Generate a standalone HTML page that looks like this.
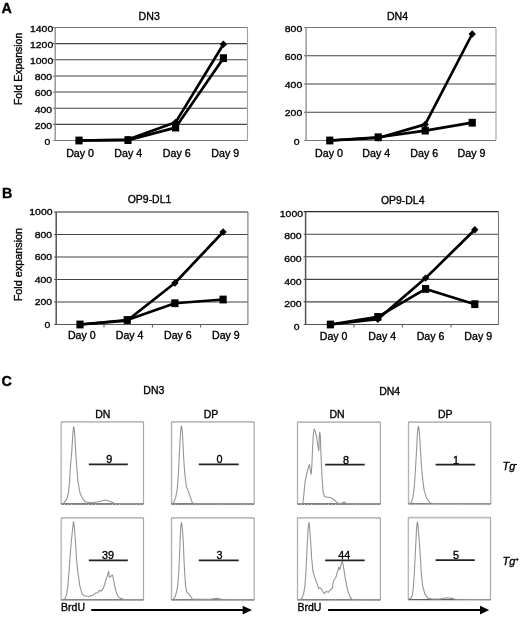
<!DOCTYPE html>
<html><head><meta charset="utf-8"><style>
html,body{margin:0;padding:0;background:#fff;}
body{width:520px;height:618px;overflow:hidden;}
svg{display:block;filter:grayscale(100%);}
text{font-family:"Liberation Sans",sans-serif;fill:#000;stroke:#000;stroke-width:0.35px;}
</style></head><body>
<svg width="520" height="618" viewBox="0 0 520 618">
<text x="1.6" y="12.7" font-size="14.3" font-weight="bold">A</text>
<text x="2.0" y="197.6" font-size="14.3" font-weight="bold">B</text>
<text x="1.6" y="386.4" font-size="14.3" font-weight="bold">C</text>
<line x1="53.20" y1="140.50" x2="247.50" y2="140.50" stroke="#777" stroke-width="1.1"/>
<text transform="translate(50.30,144.90) scale(1.05,1)" text-anchor="end" font-size="9.95">0</text>
<line x1="53.20" y1="124.36" x2="247.50" y2="124.36" stroke="#454545" stroke-width="1.1"/>
<text transform="translate(52.10,128.76) scale(1.05,1)" text-anchor="end" font-size="9.95">200</text>
<line x1="53.20" y1="108.21" x2="247.50" y2="108.21" stroke="#454545" stroke-width="1.1"/>
<text transform="translate(52.10,112.61) scale(1.05,1)" text-anchor="end" font-size="9.95">400</text>
<line x1="53.20" y1="92.07" x2="247.50" y2="92.07" stroke="#454545" stroke-width="1.1"/>
<text transform="translate(52.10,96.47) scale(1.05,1)" text-anchor="end" font-size="9.95">600</text>
<line x1="53.20" y1="75.93" x2="247.50" y2="75.93" stroke="#454545" stroke-width="1.1"/>
<text transform="translate(52.10,80.33) scale(1.05,1)" text-anchor="end" font-size="9.95">800</text>
<line x1="53.20" y1="59.79" x2="247.50" y2="59.79" stroke="#454545" stroke-width="1.1"/>
<text transform="translate(53.20,64.19) scale(1.05,1)" text-anchor="end" font-size="9.95">1000</text>
<line x1="53.20" y1="43.64" x2="247.50" y2="43.64" stroke="#454545" stroke-width="1.1"/>
<text transform="translate(53.20,48.04) scale(1.05,1)" text-anchor="end" font-size="9.95">1200</text>
<line x1="53.20" y1="27.50" x2="247.50" y2="27.50" stroke="#777" stroke-width="1.1"/>
<text transform="translate(53.20,31.90) scale(1.05,1)" text-anchor="end" font-size="9.95">1400</text>
<line x1="55.20" y1="27.50" x2="55.20" y2="140.50" stroke="#8a8a8a" stroke-width="1.3"/>
<line x1="247.50" y1="27.50" x2="247.50" y2="140.50" stroke="#a0a0a0" stroke-width="1.1"/>
<text transform="translate(149.20,20.00) scale(1.0,1)" text-anchor="middle" font-size="10.60">DN3</text>
<text transform="translate(80.10,157.00) scale(1.05,1)" text-anchor="middle" font-size="10.19">Day 0</text>
<text transform="translate(128.20,157.00) scale(1.05,1)" text-anchor="middle" font-size="10.19">Day 4</text>
<text transform="translate(176.80,157.00) scale(1.05,1)" text-anchor="middle" font-size="10.19">Day 6</text>
<text transform="translate(225.20,157.00) scale(1.05,1)" text-anchor="middle" font-size="10.19">Day 9</text>
<polyline fill="none" stroke="#000" stroke-width="2.7" stroke-linejoin="round" points="79.00,140.50 128.00,139.53 175.60,122.34 223.40,44.21"/>
<polygon points="79.00,136.80 82.70,140.50 79.00,144.20 75.30,140.50" fill="#000"/>
<polygon points="128.00,135.83 131.70,139.53 128.00,143.23 124.30,139.53" fill="#000"/>
<polygon points="175.60,118.64 179.30,122.34 175.60,126.04 171.90,122.34" fill="#000"/>
<polygon points="223.40,40.51 227.10,44.21 223.40,47.91 219.70,44.21" fill="#000"/>
<polyline fill="none" stroke="#000" stroke-width="2.7" stroke-linejoin="round" points="79.00,140.50 128.00,140.10 175.60,127.59 223.40,58.17"/>
<rect x="75.40" y="136.60" width="7.2" height="7.8" fill="#000"/>
<rect x="124.40" y="136.20" width="7.2" height="7.8" fill="#000"/>
<rect x="172.00" y="123.69" width="7.2" height="7.8" fill="#000"/>
<rect x="219.80" y="54.27" width="7.2" height="7.8" fill="#000"/>
<text transform="translate(21.90,68.90) rotate(-90) scale(1.05,1)" text-anchor="middle" font-size="10.00">Fold Expansion</text>
<line x1="304.10" y1="140.50" x2="496.00" y2="140.50" stroke="#777" stroke-width="1.1"/>
<text transform="translate(299.50,144.60) scale(1.05,1)" text-anchor="end" font-size="9.95">0</text>
<line x1="304.10" y1="112.25" x2="496.00" y2="112.25" stroke="#454545" stroke-width="1.1"/>
<text transform="translate(302.20,116.35) scale(1.05,1)" text-anchor="end" font-size="9.95">200</text>
<line x1="304.10" y1="84.00" x2="496.00" y2="84.00" stroke="#454545" stroke-width="1.1"/>
<text transform="translate(302.20,88.10) scale(1.05,1)" text-anchor="end" font-size="9.95">400</text>
<line x1="304.10" y1="55.75" x2="496.00" y2="55.75" stroke="#454545" stroke-width="1.1"/>
<text transform="translate(302.20,59.85) scale(1.05,1)" text-anchor="end" font-size="9.95">600</text>
<line x1="304.10" y1="27.50" x2="496.00" y2="27.50" stroke="#777" stroke-width="1.1"/>
<text transform="translate(302.20,31.60) scale(1.05,1)" text-anchor="end" font-size="9.95">800</text>
<line x1="306.10" y1="27.50" x2="306.10" y2="140.50" stroke="#8a8a8a" stroke-width="1.3"/>
<line x1="496.00" y1="27.50" x2="496.00" y2="140.50" stroke="#a0a0a0" stroke-width="1.1"/>
<text transform="translate(397.50,19.90) scale(1.0,1)" text-anchor="middle" font-size="10.60">DN4</text>
<text transform="translate(329.00,157.00) scale(1.05,1)" text-anchor="middle" font-size="10.19">Day 0</text>
<text transform="translate(376.20,157.00) scale(1.05,1)" text-anchor="middle" font-size="10.19">Day 4</text>
<text transform="translate(424.30,157.00) scale(1.05,1)" text-anchor="middle" font-size="10.19">Day 6</text>
<text transform="translate(471.50,157.00) scale(1.05,1)" text-anchor="middle" font-size="10.19">Day 9</text>
<polyline fill="none" stroke="#000" stroke-width="2.7" stroke-linejoin="round" points="329.80,140.50 378.20,137.96 425.20,124.40 472.20,34.00"/>
<polygon points="329.80,136.80 333.50,140.50 329.80,144.20 326.10,140.50" fill="#000"/>
<polygon points="378.20,134.26 381.90,137.96 378.20,141.66 374.50,137.96" fill="#000"/>
<polygon points="425.20,120.70 428.90,124.40 425.20,128.10 421.50,124.40" fill="#000"/>
<polygon points="472.20,30.30 475.90,34.00 472.20,37.70 468.50,34.00" fill="#000"/>
<polyline fill="none" stroke="#000" stroke-width="2.7" stroke-linejoin="round" points="329.80,140.50 378.20,137.25 425.20,130.61 472.20,122.70"/>
<rect x="326.20" y="136.60" width="7.2" height="7.8" fill="#000"/>
<rect x="374.60" y="133.35" width="7.2" height="7.8" fill="#000"/>
<rect x="421.60" y="126.71" width="7.2" height="7.8" fill="#000"/>
<rect x="468.60" y="118.80" width="7.2" height="7.8" fill="#000"/>
<line x1="54.20" y1="324.50" x2="247.90" y2="324.50" stroke="#555" stroke-width="1.1"/>
<text transform="translate(50.40,327.90) scale(1.05,1)" text-anchor="end" font-size="9.95">0</text>
<line x1="54.20" y1="302.00" x2="247.90" y2="302.00" stroke="#454545" stroke-width="1.1"/>
<text transform="translate(52.10,305.40) scale(1.05,1)" text-anchor="end" font-size="9.95">200</text>
<line x1="54.20" y1="279.50" x2="247.90" y2="279.50" stroke="#454545" stroke-width="1.1"/>
<text transform="translate(52.10,282.90) scale(1.05,1)" text-anchor="end" font-size="9.95">400</text>
<line x1="54.20" y1="257.00" x2="247.90" y2="257.00" stroke="#454545" stroke-width="1.1"/>
<text transform="translate(52.10,260.40) scale(1.05,1)" text-anchor="end" font-size="9.95">600</text>
<line x1="54.20" y1="234.50" x2="247.90" y2="234.50" stroke="#454545" stroke-width="1.1"/>
<text transform="translate(52.10,237.90) scale(1.05,1)" text-anchor="end" font-size="9.95">800</text>
<line x1="54.20" y1="212.00" x2="247.90" y2="212.00" stroke="#2a2a2a" stroke-width="1.1"/>
<text transform="translate(52.50,215.40) scale(1.05,1)" text-anchor="end" font-size="9.95">1000</text>
<line x1="56.20" y1="212.00" x2="56.20" y2="324.50" stroke="#555" stroke-width="1.5"/>
<line x1="247.90" y1="212.00" x2="247.90" y2="324.50" stroke="#777" stroke-width="1.1"/>
<line x1="104.00" y1="324.50" x2="104.00" y2="327.50" stroke="#555" stroke-width="1"/>
<line x1="152.40" y1="324.50" x2="152.40" y2="327.50" stroke="#555" stroke-width="1"/>
<line x1="200.60" y1="324.50" x2="200.60" y2="327.50" stroke="#555" stroke-width="1"/>
<text transform="translate(149.50,203.30) scale(1.0,1)" text-anchor="middle" font-size="10.45">OP9-DL1</text>
<text transform="translate(81.80,338.60) scale(1.05,1)" text-anchor="middle" font-size="10.10">Day 0</text>
<text transform="translate(129.60,338.60) scale(1.05,1)" text-anchor="middle" font-size="10.10">Day 4</text>
<text transform="translate(177.90,338.60) scale(1.05,1)" text-anchor="middle" font-size="10.10">Day 6</text>
<text transform="translate(225.90,338.60) scale(1.05,1)" text-anchor="middle" font-size="10.10">Day 9</text>
<polyline fill="none" stroke="#000" stroke-width="2.7" stroke-linejoin="round" points="80.00,324.50 127.20,320.56 174.90,282.99 223.10,232.02"/>
<polygon points="80.00,320.80 83.70,324.50 80.00,328.20 76.30,324.50" fill="#000"/>
<polygon points="127.20,316.86 130.90,320.56 127.20,324.26 123.50,320.56" fill="#000"/>
<polygon points="174.90,279.29 178.60,282.99 174.90,286.69 171.20,282.99" fill="#000"/>
<polygon points="223.10,228.32 226.80,232.02 223.10,235.72 219.40,232.02" fill="#000"/>
<polyline fill="none" stroke="#000" stroke-width="2.7" stroke-linejoin="round" points="80.00,324.50 127.20,320.00 174.90,303.24 223.10,299.52"/>
<rect x="76.40" y="320.60" width="7.2" height="7.8" fill="#000"/>
<rect x="123.60" y="316.10" width="7.2" height="7.8" fill="#000"/>
<rect x="171.30" y="299.34" width="7.2" height="7.8" fill="#000"/>
<rect x="219.50" y="295.62" width="7.2" height="7.8" fill="#000"/>
<text transform="translate(22.20,264.60) rotate(-90) scale(1.05,1)" text-anchor="middle" font-size="10.33">Fold expansion</text>
<line x1="303.60" y1="324.50" x2="498.50" y2="324.50" stroke="#555" stroke-width="1.1"/>
<text transform="translate(299.60,329.70) scale(1.05,1)" text-anchor="end" font-size="9.95">0</text>
<line x1="303.60" y1="301.92" x2="498.50" y2="301.92" stroke="#454545" stroke-width="1.1"/>
<text transform="translate(301.60,307.12) scale(1.05,1)" text-anchor="end" font-size="9.95">200</text>
<line x1="303.60" y1="279.34" x2="498.50" y2="279.34" stroke="#454545" stroke-width="1.1"/>
<text transform="translate(301.60,284.54) scale(1.05,1)" text-anchor="end" font-size="9.95">400</text>
<line x1="303.60" y1="256.76" x2="498.50" y2="256.76" stroke="#454545" stroke-width="1.1"/>
<text transform="translate(301.60,261.96) scale(1.05,1)" text-anchor="end" font-size="9.95">600</text>
<line x1="303.60" y1="234.18" x2="498.50" y2="234.18" stroke="#454545" stroke-width="1.1"/>
<text transform="translate(301.60,239.38) scale(1.05,1)" text-anchor="end" font-size="9.95">800</text>
<line x1="303.60" y1="211.60" x2="498.50" y2="211.60" stroke="#2a2a2a" stroke-width="1.1"/>
<text transform="translate(303.00,216.80) scale(1.05,1)" text-anchor="end" font-size="9.95">1000</text>
<line x1="305.60" y1="211.60" x2="305.60" y2="324.50" stroke="#555" stroke-width="1.5"/>
<line x1="498.50" y1="211.60" x2="498.50" y2="324.50" stroke="#777" stroke-width="1.1"/>
<line x1="354.00" y1="324.50" x2="354.00" y2="327.50" stroke="#555" stroke-width="1"/>
<line x1="402.40" y1="324.50" x2="402.40" y2="327.50" stroke="#555" stroke-width="1"/>
<line x1="451.00" y1="324.50" x2="451.00" y2="327.50" stroke="#555" stroke-width="1"/>
<text transform="translate(402.70,203.50) scale(1.0,1)" text-anchor="middle" font-size="10.45">OP9-DL4</text>
<text transform="translate(333.60,339.80) scale(1.05,1)" text-anchor="middle" font-size="10.10">Day 0</text>
<text transform="translate(382.20,339.80) scale(1.05,1)" text-anchor="middle" font-size="10.10">Day 4</text>
<text transform="translate(430.50,339.80) scale(1.05,1)" text-anchor="middle" font-size="10.10">Day 6</text>
<text transform="translate(478.20,339.80) scale(1.05,1)" text-anchor="middle" font-size="10.10">Day 9</text>
<polyline fill="none" stroke="#000" stroke-width="2.7" stroke-linejoin="round" points="330.40,324.50 377.80,319.19 425.60,278.10 474.80,229.78"/>
<polygon points="330.40,320.80 334.10,324.50 330.40,328.20 326.70,324.50" fill="#000"/>
<polygon points="377.80,315.49 381.50,319.19 377.80,322.89 374.10,319.19" fill="#000"/>
<polygon points="425.60,274.40 429.30,278.10 425.60,281.80 421.90,278.10" fill="#000"/>
<polygon points="474.80,226.08 478.50,229.78 474.80,233.48 471.10,229.78" fill="#000"/>
<polyline fill="none" stroke="#000" stroke-width="2.7" stroke-linejoin="round" points="330.40,324.50 377.80,316.94 425.60,288.94 474.80,304.18"/>
<rect x="326.80" y="320.60" width="7.2" height="7.8" fill="#000"/>
<rect x="374.20" y="313.04" width="7.2" height="7.8" fill="#000"/>
<rect x="422.00" y="285.04" width="7.2" height="7.8" fill="#000"/>
<rect x="471.20" y="300.28" width="7.2" height="7.8" fill="#000"/>
<line x1="61.20" y1="421.90" x2="143.50" y2="421.90" stroke="#bbb" stroke-width="1.7"/>
<line x1="61.20" y1="421.50" x2="61.20" y2="504.00" stroke="#aaa" stroke-width="1.2"/>
<line x1="143.50" y1="421.50" x2="143.50" y2="504.00" stroke="#aaa" stroke-width="1.2"/>
<line x1="61.20" y1="504.00" x2="143.50" y2="504.00" stroke="#555" stroke-width="1.3"/>
<line x1="60.20" y1="424.94" x2="62.40" y2="424.94" stroke="#d0d0d0" stroke-width="0.8"/>
<line x1="60.20" y1="428.38" x2="62.40" y2="428.38" stroke="#d0d0d0" stroke-width="0.8"/>
<line x1="60.20" y1="431.81" x2="62.40" y2="431.81" stroke="#d0d0d0" stroke-width="0.8"/>
<line x1="60.20" y1="435.25" x2="62.40" y2="435.25" stroke="#d0d0d0" stroke-width="0.8"/>
<line x1="60.20" y1="438.69" x2="62.40" y2="438.69" stroke="#d0d0d0" stroke-width="0.8"/>
<line x1="60.20" y1="442.12" x2="62.40" y2="442.12" stroke="#d0d0d0" stroke-width="0.8"/>
<line x1="60.20" y1="445.56" x2="62.40" y2="445.56" stroke="#d0d0d0" stroke-width="0.8"/>
<line x1="60.20" y1="449.00" x2="62.40" y2="449.00" stroke="#d0d0d0" stroke-width="0.8"/>
<line x1="60.20" y1="452.44" x2="62.40" y2="452.44" stroke="#d0d0d0" stroke-width="0.8"/>
<line x1="60.20" y1="455.88" x2="62.40" y2="455.88" stroke="#d0d0d0" stroke-width="0.8"/>
<line x1="60.20" y1="459.31" x2="62.40" y2="459.31" stroke="#d0d0d0" stroke-width="0.8"/>
<line x1="60.20" y1="462.75" x2="62.40" y2="462.75" stroke="#d0d0d0" stroke-width="0.8"/>
<line x1="60.20" y1="466.19" x2="62.40" y2="466.19" stroke="#d0d0d0" stroke-width="0.8"/>
<line x1="60.20" y1="469.62" x2="62.40" y2="469.62" stroke="#d0d0d0" stroke-width="0.8"/>
<line x1="60.20" y1="473.06" x2="62.40" y2="473.06" stroke="#d0d0d0" stroke-width="0.8"/>
<line x1="60.20" y1="476.50" x2="62.40" y2="476.50" stroke="#d0d0d0" stroke-width="0.8"/>
<line x1="60.20" y1="479.94" x2="62.40" y2="479.94" stroke="#d0d0d0" stroke-width="0.8"/>
<line x1="60.20" y1="483.38" x2="62.40" y2="483.38" stroke="#d0d0d0" stroke-width="0.8"/>
<line x1="60.20" y1="486.81" x2="62.40" y2="486.81" stroke="#d0d0d0" stroke-width="0.8"/>
<line x1="60.20" y1="490.25" x2="62.40" y2="490.25" stroke="#d0d0d0" stroke-width="0.8"/>
<line x1="60.20" y1="493.69" x2="62.40" y2="493.69" stroke="#d0d0d0" stroke-width="0.8"/>
<line x1="60.20" y1="497.12" x2="62.40" y2="497.12" stroke="#d0d0d0" stroke-width="0.8"/>
<line x1="60.20" y1="500.56" x2="62.40" y2="500.56" stroke="#d0d0d0" stroke-width="0.8"/>
<line x1="64.63" y1="504.00" x2="64.63" y2="505.60" stroke="#d0d0d0" stroke-width="0.8"/>
<line x1="68.06" y1="504.00" x2="68.06" y2="505.60" stroke="#d0d0d0" stroke-width="0.8"/>
<line x1="71.49" y1="504.00" x2="71.49" y2="505.60" stroke="#d0d0d0" stroke-width="0.8"/>
<line x1="74.92" y1="504.00" x2="74.92" y2="505.60" stroke="#d0d0d0" stroke-width="0.8"/>
<line x1="78.35" y1="504.00" x2="78.35" y2="505.60" stroke="#d0d0d0" stroke-width="0.8"/>
<line x1="81.78" y1="504.00" x2="81.78" y2="505.60" stroke="#d0d0d0" stroke-width="0.8"/>
<line x1="85.20" y1="504.00" x2="85.20" y2="505.60" stroke="#d0d0d0" stroke-width="0.8"/>
<line x1="88.63" y1="504.00" x2="88.63" y2="505.60" stroke="#d0d0d0" stroke-width="0.8"/>
<line x1="92.06" y1="504.00" x2="92.06" y2="505.60" stroke="#d0d0d0" stroke-width="0.8"/>
<line x1="95.49" y1="504.00" x2="95.49" y2="505.60" stroke="#d0d0d0" stroke-width="0.8"/>
<line x1="98.92" y1="504.00" x2="98.92" y2="505.60" stroke="#d0d0d0" stroke-width="0.8"/>
<line x1="102.35" y1="504.00" x2="102.35" y2="505.60" stroke="#d0d0d0" stroke-width="0.8"/>
<line x1="105.78" y1="504.00" x2="105.78" y2="505.60" stroke="#d0d0d0" stroke-width="0.8"/>
<line x1="109.21" y1="504.00" x2="109.21" y2="505.60" stroke="#d0d0d0" stroke-width="0.8"/>
<line x1="112.64" y1="504.00" x2="112.64" y2="505.60" stroke="#d0d0d0" stroke-width="0.8"/>
<line x1="116.07" y1="504.00" x2="116.07" y2="505.60" stroke="#d0d0d0" stroke-width="0.8"/>
<line x1="119.50" y1="504.00" x2="119.50" y2="505.60" stroke="#d0d0d0" stroke-width="0.8"/>
<line x1="122.92" y1="504.00" x2="122.92" y2="505.60" stroke="#d0d0d0" stroke-width="0.8"/>
<line x1="126.35" y1="504.00" x2="126.35" y2="505.60" stroke="#d0d0d0" stroke-width="0.8"/>
<line x1="129.78" y1="504.00" x2="129.78" y2="505.60" stroke="#d0d0d0" stroke-width="0.8"/>
<line x1="133.21" y1="504.00" x2="133.21" y2="505.60" stroke="#d0d0d0" stroke-width="0.8"/>
<line x1="136.64" y1="504.00" x2="136.64" y2="505.60" stroke="#d0d0d0" stroke-width="0.8"/>
<line x1="140.07" y1="504.00" x2="140.07" y2="505.60" stroke="#d0d0d0" stroke-width="0.8"/>
<polyline fill="none" stroke="#959595" stroke-width="1.1" stroke-linejoin="round" points="61.5,503.8 62.5,503.6 64.1,502.6 66.7,499.1 68.4,493.3 69.6,481.6 70.3,468.5 71.7,452.4 72.7,436.2 73.4,428.0 73.7,426.9 74.1,428.0 74.9,436.2 75.7,452.4 76.9,468.5 78.0,481.6 80.1,493.3 82.7,499.1 85.6,502.0 91.7,502.7 99.4,501.5 105.5,500.0 110.2,501.5 114.8,503.5 117.0,503.8 143.3,503.8"/>
<line x1="88.80" y1="464.40" x2="127.80" y2="464.40" stroke="#222" stroke-width="1.7"/>
<text transform="translate(109.20,463.40) scale(1.0,1)" text-anchor="middle" font-size="10.80">9</text>
<line x1="171.50" y1="421.90" x2="254.20" y2="421.90" stroke="#bbb" stroke-width="1.7"/>
<line x1="171.50" y1="421.50" x2="171.50" y2="504.00" stroke="#aaa" stroke-width="1.2"/>
<line x1="254.20" y1="421.50" x2="254.20" y2="504.00" stroke="#aaa" stroke-width="1.2"/>
<line x1="171.50" y1="504.00" x2="254.20" y2="504.00" stroke="#555" stroke-width="1.3"/>
<line x1="170.50" y1="424.94" x2="172.70" y2="424.94" stroke="#d0d0d0" stroke-width="0.8"/>
<line x1="170.50" y1="428.38" x2="172.70" y2="428.38" stroke="#d0d0d0" stroke-width="0.8"/>
<line x1="170.50" y1="431.81" x2="172.70" y2="431.81" stroke="#d0d0d0" stroke-width="0.8"/>
<line x1="170.50" y1="435.25" x2="172.70" y2="435.25" stroke="#d0d0d0" stroke-width="0.8"/>
<line x1="170.50" y1="438.69" x2="172.70" y2="438.69" stroke="#d0d0d0" stroke-width="0.8"/>
<line x1="170.50" y1="442.12" x2="172.70" y2="442.12" stroke="#d0d0d0" stroke-width="0.8"/>
<line x1="170.50" y1="445.56" x2="172.70" y2="445.56" stroke="#d0d0d0" stroke-width="0.8"/>
<line x1="170.50" y1="449.00" x2="172.70" y2="449.00" stroke="#d0d0d0" stroke-width="0.8"/>
<line x1="170.50" y1="452.44" x2="172.70" y2="452.44" stroke="#d0d0d0" stroke-width="0.8"/>
<line x1="170.50" y1="455.88" x2="172.70" y2="455.88" stroke="#d0d0d0" stroke-width="0.8"/>
<line x1="170.50" y1="459.31" x2="172.70" y2="459.31" stroke="#d0d0d0" stroke-width="0.8"/>
<line x1="170.50" y1="462.75" x2="172.70" y2="462.75" stroke="#d0d0d0" stroke-width="0.8"/>
<line x1="170.50" y1="466.19" x2="172.70" y2="466.19" stroke="#d0d0d0" stroke-width="0.8"/>
<line x1="170.50" y1="469.62" x2="172.70" y2="469.62" stroke="#d0d0d0" stroke-width="0.8"/>
<line x1="170.50" y1="473.06" x2="172.70" y2="473.06" stroke="#d0d0d0" stroke-width="0.8"/>
<line x1="170.50" y1="476.50" x2="172.70" y2="476.50" stroke="#d0d0d0" stroke-width="0.8"/>
<line x1="170.50" y1="479.94" x2="172.70" y2="479.94" stroke="#d0d0d0" stroke-width="0.8"/>
<line x1="170.50" y1="483.38" x2="172.70" y2="483.38" stroke="#d0d0d0" stroke-width="0.8"/>
<line x1="170.50" y1="486.81" x2="172.70" y2="486.81" stroke="#d0d0d0" stroke-width="0.8"/>
<line x1="170.50" y1="490.25" x2="172.70" y2="490.25" stroke="#d0d0d0" stroke-width="0.8"/>
<line x1="170.50" y1="493.69" x2="172.70" y2="493.69" stroke="#d0d0d0" stroke-width="0.8"/>
<line x1="170.50" y1="497.12" x2="172.70" y2="497.12" stroke="#d0d0d0" stroke-width="0.8"/>
<line x1="170.50" y1="500.56" x2="172.70" y2="500.56" stroke="#d0d0d0" stroke-width="0.8"/>
<line x1="174.95" y1="504.00" x2="174.95" y2="505.60" stroke="#d0d0d0" stroke-width="0.8"/>
<line x1="178.39" y1="504.00" x2="178.39" y2="505.60" stroke="#d0d0d0" stroke-width="0.8"/>
<line x1="181.84" y1="504.00" x2="181.84" y2="505.60" stroke="#d0d0d0" stroke-width="0.8"/>
<line x1="185.28" y1="504.00" x2="185.28" y2="505.60" stroke="#d0d0d0" stroke-width="0.8"/>
<line x1="188.73" y1="504.00" x2="188.73" y2="505.60" stroke="#d0d0d0" stroke-width="0.8"/>
<line x1="192.18" y1="504.00" x2="192.18" y2="505.60" stroke="#d0d0d0" stroke-width="0.8"/>
<line x1="195.62" y1="504.00" x2="195.62" y2="505.60" stroke="#d0d0d0" stroke-width="0.8"/>
<line x1="199.07" y1="504.00" x2="199.07" y2="505.60" stroke="#d0d0d0" stroke-width="0.8"/>
<line x1="202.51" y1="504.00" x2="202.51" y2="505.60" stroke="#d0d0d0" stroke-width="0.8"/>
<line x1="205.96" y1="504.00" x2="205.96" y2="505.60" stroke="#d0d0d0" stroke-width="0.8"/>
<line x1="209.40" y1="504.00" x2="209.40" y2="505.60" stroke="#d0d0d0" stroke-width="0.8"/>
<line x1="212.85" y1="504.00" x2="212.85" y2="505.60" stroke="#d0d0d0" stroke-width="0.8"/>
<line x1="216.30" y1="504.00" x2="216.30" y2="505.60" stroke="#d0d0d0" stroke-width="0.8"/>
<line x1="219.74" y1="504.00" x2="219.74" y2="505.60" stroke="#d0d0d0" stroke-width="0.8"/>
<line x1="223.19" y1="504.00" x2="223.19" y2="505.60" stroke="#d0d0d0" stroke-width="0.8"/>
<line x1="226.63" y1="504.00" x2="226.63" y2="505.60" stroke="#d0d0d0" stroke-width="0.8"/>
<line x1="230.08" y1="504.00" x2="230.08" y2="505.60" stroke="#d0d0d0" stroke-width="0.8"/>
<line x1="233.53" y1="504.00" x2="233.53" y2="505.60" stroke="#d0d0d0" stroke-width="0.8"/>
<line x1="236.97" y1="504.00" x2="236.97" y2="505.60" stroke="#d0d0d0" stroke-width="0.8"/>
<line x1="240.42" y1="504.00" x2="240.42" y2="505.60" stroke="#d0d0d0" stroke-width="0.8"/>
<line x1="243.86" y1="504.00" x2="243.86" y2="505.60" stroke="#d0d0d0" stroke-width="0.8"/>
<line x1="247.31" y1="504.00" x2="247.31" y2="505.60" stroke="#d0d0d0" stroke-width="0.8"/>
<line x1="250.75" y1="504.00" x2="250.75" y2="505.60" stroke="#d0d0d0" stroke-width="0.8"/>
<polyline fill="none" stroke="#959595" stroke-width="1.1" stroke-linejoin="round" points="171.5,503.8 173.5,502.8 175.6,497.9 177.2,489.6 178.3,475.7 179.0,461.7 179.7,447.8 180.4,433.9 181.0,428.0 181.4,425.8 181.9,428.0 182.5,433.9 183.2,447.8 183.9,461.7 185.0,475.7 186.4,486.8 188.8,492.4 190.6,497.9 192.3,502.8 194.4,503.6 254.0,503.8"/>
<line x1="198.80" y1="464.40" x2="238.70" y2="464.40" stroke="#222" stroke-width="1.7"/>
<text transform="translate(219.40,463.40) scale(1.0,1)" text-anchor="middle" font-size="10.80">0</text>
<line x1="61.20" y1="517.90" x2="143.50" y2="517.90" stroke="#bbb" stroke-width="1.7"/>
<line x1="61.20" y1="517.50" x2="61.20" y2="599.80" stroke="#aaa" stroke-width="1.2"/>
<line x1="143.50" y1="517.50" x2="143.50" y2="599.80" stroke="#aaa" stroke-width="1.2"/>
<line x1="61.20" y1="599.80" x2="143.50" y2="599.80" stroke="#555" stroke-width="1.3"/>
<line x1="60.20" y1="520.93" x2="62.40" y2="520.93" stroke="#d0d0d0" stroke-width="0.8"/>
<line x1="60.20" y1="524.36" x2="62.40" y2="524.36" stroke="#d0d0d0" stroke-width="0.8"/>
<line x1="60.20" y1="527.79" x2="62.40" y2="527.79" stroke="#d0d0d0" stroke-width="0.8"/>
<line x1="60.20" y1="531.22" x2="62.40" y2="531.22" stroke="#d0d0d0" stroke-width="0.8"/>
<line x1="60.20" y1="534.65" x2="62.40" y2="534.65" stroke="#d0d0d0" stroke-width="0.8"/>
<line x1="60.20" y1="538.08" x2="62.40" y2="538.08" stroke="#d0d0d0" stroke-width="0.8"/>
<line x1="60.20" y1="541.50" x2="62.40" y2="541.50" stroke="#d0d0d0" stroke-width="0.8"/>
<line x1="60.20" y1="544.93" x2="62.40" y2="544.93" stroke="#d0d0d0" stroke-width="0.8"/>
<line x1="60.20" y1="548.36" x2="62.40" y2="548.36" stroke="#d0d0d0" stroke-width="0.8"/>
<line x1="60.20" y1="551.79" x2="62.40" y2="551.79" stroke="#d0d0d0" stroke-width="0.8"/>
<line x1="60.20" y1="555.22" x2="62.40" y2="555.22" stroke="#d0d0d0" stroke-width="0.8"/>
<line x1="60.20" y1="558.65" x2="62.40" y2="558.65" stroke="#d0d0d0" stroke-width="0.8"/>
<line x1="60.20" y1="562.08" x2="62.40" y2="562.08" stroke="#d0d0d0" stroke-width="0.8"/>
<line x1="60.20" y1="565.51" x2="62.40" y2="565.51" stroke="#d0d0d0" stroke-width="0.8"/>
<line x1="60.20" y1="568.94" x2="62.40" y2="568.94" stroke="#d0d0d0" stroke-width="0.8"/>
<line x1="60.20" y1="572.37" x2="62.40" y2="572.37" stroke="#d0d0d0" stroke-width="0.8"/>
<line x1="60.20" y1="575.80" x2="62.40" y2="575.80" stroke="#d0d0d0" stroke-width="0.8"/>
<line x1="60.20" y1="579.22" x2="62.40" y2="579.22" stroke="#d0d0d0" stroke-width="0.8"/>
<line x1="60.20" y1="582.65" x2="62.40" y2="582.65" stroke="#d0d0d0" stroke-width="0.8"/>
<line x1="60.20" y1="586.08" x2="62.40" y2="586.08" stroke="#d0d0d0" stroke-width="0.8"/>
<line x1="60.20" y1="589.51" x2="62.40" y2="589.51" stroke="#d0d0d0" stroke-width="0.8"/>
<line x1="60.20" y1="592.94" x2="62.40" y2="592.94" stroke="#d0d0d0" stroke-width="0.8"/>
<line x1="60.20" y1="596.37" x2="62.40" y2="596.37" stroke="#d0d0d0" stroke-width="0.8"/>
<line x1="64.63" y1="599.80" x2="64.63" y2="601.40" stroke="#d0d0d0" stroke-width="0.8"/>
<line x1="68.06" y1="599.80" x2="68.06" y2="601.40" stroke="#d0d0d0" stroke-width="0.8"/>
<line x1="71.49" y1="599.80" x2="71.49" y2="601.40" stroke="#d0d0d0" stroke-width="0.8"/>
<line x1="74.92" y1="599.80" x2="74.92" y2="601.40" stroke="#d0d0d0" stroke-width="0.8"/>
<line x1="78.35" y1="599.80" x2="78.35" y2="601.40" stroke="#d0d0d0" stroke-width="0.8"/>
<line x1="81.78" y1="599.80" x2="81.78" y2="601.40" stroke="#d0d0d0" stroke-width="0.8"/>
<line x1="85.20" y1="599.80" x2="85.20" y2="601.40" stroke="#d0d0d0" stroke-width="0.8"/>
<line x1="88.63" y1="599.80" x2="88.63" y2="601.40" stroke="#d0d0d0" stroke-width="0.8"/>
<line x1="92.06" y1="599.80" x2="92.06" y2="601.40" stroke="#d0d0d0" stroke-width="0.8"/>
<line x1="95.49" y1="599.80" x2="95.49" y2="601.40" stroke="#d0d0d0" stroke-width="0.8"/>
<line x1="98.92" y1="599.80" x2="98.92" y2="601.40" stroke="#d0d0d0" stroke-width="0.8"/>
<line x1="102.35" y1="599.80" x2="102.35" y2="601.40" stroke="#d0d0d0" stroke-width="0.8"/>
<line x1="105.78" y1="599.80" x2="105.78" y2="601.40" stroke="#d0d0d0" stroke-width="0.8"/>
<line x1="109.21" y1="599.80" x2="109.21" y2="601.40" stroke="#d0d0d0" stroke-width="0.8"/>
<line x1="112.64" y1="599.80" x2="112.64" y2="601.40" stroke="#d0d0d0" stroke-width="0.8"/>
<line x1="116.07" y1="599.80" x2="116.07" y2="601.40" stroke="#d0d0d0" stroke-width="0.8"/>
<line x1="119.50" y1="599.80" x2="119.50" y2="601.40" stroke="#d0d0d0" stroke-width="0.8"/>
<line x1="122.92" y1="599.80" x2="122.92" y2="601.40" stroke="#d0d0d0" stroke-width="0.8"/>
<line x1="126.35" y1="599.80" x2="126.35" y2="601.40" stroke="#d0d0d0" stroke-width="0.8"/>
<line x1="129.78" y1="599.80" x2="129.78" y2="601.40" stroke="#d0d0d0" stroke-width="0.8"/>
<line x1="133.21" y1="599.80" x2="133.21" y2="601.40" stroke="#d0d0d0" stroke-width="0.8"/>
<line x1="136.64" y1="599.80" x2="136.64" y2="601.40" stroke="#d0d0d0" stroke-width="0.8"/>
<line x1="140.07" y1="599.80" x2="140.07" y2="601.40" stroke="#d0d0d0" stroke-width="0.8"/>
<polyline fill="none" stroke="#959595" stroke-width="1.1" stroke-linejoin="round" points="61.5,599.6 63.5,599.3 65.3,598.1 66.7,593.9 67.9,585.6 69.0,571.7 70.0,557.7 71.1,543.8 72.5,529.9 73.2,523.5 73.5,521.6 73.9,523.5 74.6,529.9 75.6,543.8 76.4,557.7 77.8,571.7 79.8,585.6 82.0,593.9 84.4,595.8 88.6,596.5 92.5,595.4 95.5,593.1 97.8,592.7 99.4,590.4 101.3,591.2 102.8,589.2 104.4,585.4 105.5,580.8 106.5,578.5 107.5,575.4 108.5,571.2 109.4,577.3 110.9,576.2 112.5,575.0 113.6,580.0 114.8,586.2 116.3,592.3 117.8,596.2 119.4,597.7 121.7,598.5 124.0,599.5 143.3,599.6"/>
<line x1="88.80" y1="560.40" x2="127.80" y2="560.40" stroke="#222" stroke-width="1.7"/>
<text transform="translate(108.00,559.40) scale(1.0,1)" text-anchor="middle" font-size="10.80">39</text>
<line x1="171.50" y1="517.90" x2="254.20" y2="517.90" stroke="#bbb" stroke-width="1.7"/>
<line x1="171.50" y1="517.50" x2="171.50" y2="599.80" stroke="#aaa" stroke-width="1.2"/>
<line x1="254.20" y1="517.50" x2="254.20" y2="599.80" stroke="#aaa" stroke-width="1.2"/>
<line x1="171.50" y1="599.80" x2="254.20" y2="599.80" stroke="#555" stroke-width="1.3"/>
<line x1="170.50" y1="520.93" x2="172.70" y2="520.93" stroke="#d0d0d0" stroke-width="0.8"/>
<line x1="170.50" y1="524.36" x2="172.70" y2="524.36" stroke="#d0d0d0" stroke-width="0.8"/>
<line x1="170.50" y1="527.79" x2="172.70" y2="527.79" stroke="#d0d0d0" stroke-width="0.8"/>
<line x1="170.50" y1="531.22" x2="172.70" y2="531.22" stroke="#d0d0d0" stroke-width="0.8"/>
<line x1="170.50" y1="534.65" x2="172.70" y2="534.65" stroke="#d0d0d0" stroke-width="0.8"/>
<line x1="170.50" y1="538.08" x2="172.70" y2="538.08" stroke="#d0d0d0" stroke-width="0.8"/>
<line x1="170.50" y1="541.50" x2="172.70" y2="541.50" stroke="#d0d0d0" stroke-width="0.8"/>
<line x1="170.50" y1="544.93" x2="172.70" y2="544.93" stroke="#d0d0d0" stroke-width="0.8"/>
<line x1="170.50" y1="548.36" x2="172.70" y2="548.36" stroke="#d0d0d0" stroke-width="0.8"/>
<line x1="170.50" y1="551.79" x2="172.70" y2="551.79" stroke="#d0d0d0" stroke-width="0.8"/>
<line x1="170.50" y1="555.22" x2="172.70" y2="555.22" stroke="#d0d0d0" stroke-width="0.8"/>
<line x1="170.50" y1="558.65" x2="172.70" y2="558.65" stroke="#d0d0d0" stroke-width="0.8"/>
<line x1="170.50" y1="562.08" x2="172.70" y2="562.08" stroke="#d0d0d0" stroke-width="0.8"/>
<line x1="170.50" y1="565.51" x2="172.70" y2="565.51" stroke="#d0d0d0" stroke-width="0.8"/>
<line x1="170.50" y1="568.94" x2="172.70" y2="568.94" stroke="#d0d0d0" stroke-width="0.8"/>
<line x1="170.50" y1="572.37" x2="172.70" y2="572.37" stroke="#d0d0d0" stroke-width="0.8"/>
<line x1="170.50" y1="575.80" x2="172.70" y2="575.80" stroke="#d0d0d0" stroke-width="0.8"/>
<line x1="170.50" y1="579.22" x2="172.70" y2="579.22" stroke="#d0d0d0" stroke-width="0.8"/>
<line x1="170.50" y1="582.65" x2="172.70" y2="582.65" stroke="#d0d0d0" stroke-width="0.8"/>
<line x1="170.50" y1="586.08" x2="172.70" y2="586.08" stroke="#d0d0d0" stroke-width="0.8"/>
<line x1="170.50" y1="589.51" x2="172.70" y2="589.51" stroke="#d0d0d0" stroke-width="0.8"/>
<line x1="170.50" y1="592.94" x2="172.70" y2="592.94" stroke="#d0d0d0" stroke-width="0.8"/>
<line x1="170.50" y1="596.37" x2="172.70" y2="596.37" stroke="#d0d0d0" stroke-width="0.8"/>
<line x1="174.95" y1="599.80" x2="174.95" y2="601.40" stroke="#d0d0d0" stroke-width="0.8"/>
<line x1="178.39" y1="599.80" x2="178.39" y2="601.40" stroke="#d0d0d0" stroke-width="0.8"/>
<line x1="181.84" y1="599.80" x2="181.84" y2="601.40" stroke="#d0d0d0" stroke-width="0.8"/>
<line x1="185.28" y1="599.80" x2="185.28" y2="601.40" stroke="#d0d0d0" stroke-width="0.8"/>
<line x1="188.73" y1="599.80" x2="188.73" y2="601.40" stroke="#d0d0d0" stroke-width="0.8"/>
<line x1="192.18" y1="599.80" x2="192.18" y2="601.40" stroke="#d0d0d0" stroke-width="0.8"/>
<line x1="195.62" y1="599.80" x2="195.62" y2="601.40" stroke="#d0d0d0" stroke-width="0.8"/>
<line x1="199.07" y1="599.80" x2="199.07" y2="601.40" stroke="#d0d0d0" stroke-width="0.8"/>
<line x1="202.51" y1="599.80" x2="202.51" y2="601.40" stroke="#d0d0d0" stroke-width="0.8"/>
<line x1="205.96" y1="599.80" x2="205.96" y2="601.40" stroke="#d0d0d0" stroke-width="0.8"/>
<line x1="209.40" y1="599.80" x2="209.40" y2="601.40" stroke="#d0d0d0" stroke-width="0.8"/>
<line x1="212.85" y1="599.80" x2="212.85" y2="601.40" stroke="#d0d0d0" stroke-width="0.8"/>
<line x1="216.30" y1="599.80" x2="216.30" y2="601.40" stroke="#d0d0d0" stroke-width="0.8"/>
<line x1="219.74" y1="599.80" x2="219.74" y2="601.40" stroke="#d0d0d0" stroke-width="0.8"/>
<line x1="223.19" y1="599.80" x2="223.19" y2="601.40" stroke="#d0d0d0" stroke-width="0.8"/>
<line x1="226.63" y1="599.80" x2="226.63" y2="601.40" stroke="#d0d0d0" stroke-width="0.8"/>
<line x1="230.08" y1="599.80" x2="230.08" y2="601.40" stroke="#d0d0d0" stroke-width="0.8"/>
<line x1="233.53" y1="599.80" x2="233.53" y2="601.40" stroke="#d0d0d0" stroke-width="0.8"/>
<line x1="236.97" y1="599.80" x2="236.97" y2="601.40" stroke="#d0d0d0" stroke-width="0.8"/>
<line x1="240.42" y1="599.80" x2="240.42" y2="601.40" stroke="#d0d0d0" stroke-width="0.8"/>
<line x1="243.86" y1="599.80" x2="243.86" y2="601.40" stroke="#d0d0d0" stroke-width="0.8"/>
<line x1="247.31" y1="599.80" x2="247.31" y2="601.40" stroke="#d0d0d0" stroke-width="0.8"/>
<line x1="250.75" y1="599.80" x2="250.75" y2="601.40" stroke="#d0d0d0" stroke-width="0.8"/>
<polyline fill="none" stroke="#959595" stroke-width="1.1" stroke-linejoin="round" points="171.5,599.6 173.0,599.3 175.3,596.7 176.7,591.1 177.7,585.6 178.8,571.7 179.5,557.7 180.0,543.8 180.6,529.9 181.1,524.0 181.4,522.3 181.8,524.0 182.5,529.9 183.4,543.8 183.9,557.7 184.6,571.7 185.6,585.6 186.7,591.8 188.8,593.9 190.9,596.7 192.3,599.0 196.0,599.3 210.0,599.3 216.5,598.4 222.0,599.3 254.0,599.6"/>
<line x1="198.80" y1="560.40" x2="238.70" y2="560.40" stroke="#222" stroke-width="1.7"/>
<text transform="translate(219.40,559.40) scale(1.0,1)" text-anchor="middle" font-size="10.80">3</text>
<line x1="297.50" y1="422.10" x2="380.40" y2="422.10" stroke="#bbb" stroke-width="1.7"/>
<line x1="297.50" y1="421.70" x2="297.50" y2="504.00" stroke="#aaa" stroke-width="1.2"/>
<line x1="380.40" y1="421.70" x2="380.40" y2="504.00" stroke="#aaa" stroke-width="1.2"/>
<line x1="297.50" y1="504.00" x2="380.40" y2="504.00" stroke="#555" stroke-width="1.3"/>
<line x1="296.50" y1="425.13" x2="298.70" y2="425.13" stroke="#d0d0d0" stroke-width="0.8"/>
<line x1="296.50" y1="428.56" x2="298.70" y2="428.56" stroke="#d0d0d0" stroke-width="0.8"/>
<line x1="296.50" y1="431.99" x2="298.70" y2="431.99" stroke="#d0d0d0" stroke-width="0.8"/>
<line x1="296.50" y1="435.42" x2="298.70" y2="435.42" stroke="#d0d0d0" stroke-width="0.8"/>
<line x1="296.50" y1="438.85" x2="298.70" y2="438.85" stroke="#d0d0d0" stroke-width="0.8"/>
<line x1="296.50" y1="442.27" x2="298.70" y2="442.27" stroke="#d0d0d0" stroke-width="0.8"/>
<line x1="296.50" y1="445.70" x2="298.70" y2="445.70" stroke="#d0d0d0" stroke-width="0.8"/>
<line x1="296.50" y1="449.13" x2="298.70" y2="449.13" stroke="#d0d0d0" stroke-width="0.8"/>
<line x1="296.50" y1="452.56" x2="298.70" y2="452.56" stroke="#d0d0d0" stroke-width="0.8"/>
<line x1="296.50" y1="455.99" x2="298.70" y2="455.99" stroke="#d0d0d0" stroke-width="0.8"/>
<line x1="296.50" y1="459.42" x2="298.70" y2="459.42" stroke="#d0d0d0" stroke-width="0.8"/>
<line x1="296.50" y1="462.85" x2="298.70" y2="462.85" stroke="#d0d0d0" stroke-width="0.8"/>
<line x1="296.50" y1="466.28" x2="298.70" y2="466.28" stroke="#d0d0d0" stroke-width="0.8"/>
<line x1="296.50" y1="469.71" x2="298.70" y2="469.71" stroke="#d0d0d0" stroke-width="0.8"/>
<line x1="296.50" y1="473.14" x2="298.70" y2="473.14" stroke="#d0d0d0" stroke-width="0.8"/>
<line x1="296.50" y1="476.57" x2="298.70" y2="476.57" stroke="#d0d0d0" stroke-width="0.8"/>
<line x1="296.50" y1="480.00" x2="298.70" y2="480.00" stroke="#d0d0d0" stroke-width="0.8"/>
<line x1="296.50" y1="483.43" x2="298.70" y2="483.43" stroke="#d0d0d0" stroke-width="0.8"/>
<line x1="296.50" y1="486.85" x2="298.70" y2="486.85" stroke="#d0d0d0" stroke-width="0.8"/>
<line x1="296.50" y1="490.28" x2="298.70" y2="490.28" stroke="#d0d0d0" stroke-width="0.8"/>
<line x1="296.50" y1="493.71" x2="298.70" y2="493.71" stroke="#d0d0d0" stroke-width="0.8"/>
<line x1="296.50" y1="497.14" x2="298.70" y2="497.14" stroke="#d0d0d0" stroke-width="0.8"/>
<line x1="296.50" y1="500.57" x2="298.70" y2="500.57" stroke="#d0d0d0" stroke-width="0.8"/>
<line x1="300.95" y1="504.00" x2="300.95" y2="505.60" stroke="#d0d0d0" stroke-width="0.8"/>
<line x1="304.41" y1="504.00" x2="304.41" y2="505.60" stroke="#d0d0d0" stroke-width="0.8"/>
<line x1="307.86" y1="504.00" x2="307.86" y2="505.60" stroke="#d0d0d0" stroke-width="0.8"/>
<line x1="311.32" y1="504.00" x2="311.32" y2="505.60" stroke="#d0d0d0" stroke-width="0.8"/>
<line x1="314.77" y1="504.00" x2="314.77" y2="505.60" stroke="#d0d0d0" stroke-width="0.8"/>
<line x1="318.23" y1="504.00" x2="318.23" y2="505.60" stroke="#d0d0d0" stroke-width="0.8"/>
<line x1="321.68" y1="504.00" x2="321.68" y2="505.60" stroke="#d0d0d0" stroke-width="0.8"/>
<line x1="325.13" y1="504.00" x2="325.13" y2="505.60" stroke="#d0d0d0" stroke-width="0.8"/>
<line x1="328.59" y1="504.00" x2="328.59" y2="505.60" stroke="#d0d0d0" stroke-width="0.8"/>
<line x1="332.04" y1="504.00" x2="332.04" y2="505.60" stroke="#d0d0d0" stroke-width="0.8"/>
<line x1="335.50" y1="504.00" x2="335.50" y2="505.60" stroke="#d0d0d0" stroke-width="0.8"/>
<line x1="338.95" y1="504.00" x2="338.95" y2="505.60" stroke="#d0d0d0" stroke-width="0.8"/>
<line x1="342.40" y1="504.00" x2="342.40" y2="505.60" stroke="#d0d0d0" stroke-width="0.8"/>
<line x1="345.86" y1="504.00" x2="345.86" y2="505.60" stroke="#d0d0d0" stroke-width="0.8"/>
<line x1="349.31" y1="504.00" x2="349.31" y2="505.60" stroke="#d0d0d0" stroke-width="0.8"/>
<line x1="352.77" y1="504.00" x2="352.77" y2="505.60" stroke="#d0d0d0" stroke-width="0.8"/>
<line x1="356.22" y1="504.00" x2="356.22" y2="505.60" stroke="#d0d0d0" stroke-width="0.8"/>
<line x1="359.67" y1="504.00" x2="359.67" y2="505.60" stroke="#d0d0d0" stroke-width="0.8"/>
<line x1="363.13" y1="504.00" x2="363.13" y2="505.60" stroke="#d0d0d0" stroke-width="0.8"/>
<line x1="366.58" y1="504.00" x2="366.58" y2="505.60" stroke="#d0d0d0" stroke-width="0.8"/>
<line x1="370.04" y1="504.00" x2="370.04" y2="505.60" stroke="#d0d0d0" stroke-width="0.8"/>
<line x1="373.49" y1="504.00" x2="373.49" y2="505.60" stroke="#d0d0d0" stroke-width="0.8"/>
<line x1="376.95" y1="504.00" x2="376.95" y2="505.60" stroke="#d0d0d0" stroke-width="0.8"/>
<polyline fill="none" stroke="#959595" stroke-width="1.1" stroke-linejoin="round" points="297.5,503.8 302.9,503.2 303.8,495.1 305.0,482.6 306.3,475.7 308.0,468.7 309.4,464.5 310.5,471.5 311.2,474.3 311.9,464.5 312.6,447.8 313.3,435.3 314.1,429.0 315.4,431.8 316.8,438.1 318.2,447.8 318.9,450.6 319.3,436.7 319.7,432.2 320.3,435.3 321.0,454.8 321.9,475.7 323.0,491.0 324.4,496.5 327.2,497.2 328.6,497.3 331.2,498.0 333.0,499.0 335.5,501.0 338.1,503.2 340.7,503.7 344.2,502.0 346.8,503.7 380.2,503.8"/>
<line x1="325.20" y1="464.70" x2="364.70" y2="464.70" stroke="#222" stroke-width="1.7"/>
<text transform="translate(345.90,463.70) scale(1.0,1)" text-anchor="middle" font-size="10.80">8</text>
<line x1="408.50" y1="422.10" x2="490.80" y2="422.10" stroke="#bbb" stroke-width="1.7"/>
<line x1="408.50" y1="421.70" x2="408.50" y2="503.90" stroke="#aaa" stroke-width="1.2"/>
<line x1="490.80" y1="421.70" x2="490.80" y2="503.90" stroke="#aaa" stroke-width="1.2"/>
<line x1="408.50" y1="503.90" x2="490.80" y2="503.90" stroke="#555" stroke-width="1.3"/>
<line x1="407.50" y1="425.12" x2="409.70" y2="425.12" stroke="#d0d0d0" stroke-width="0.8"/>
<line x1="407.50" y1="428.55" x2="409.70" y2="428.55" stroke="#d0d0d0" stroke-width="0.8"/>
<line x1="407.50" y1="431.97" x2="409.70" y2="431.97" stroke="#d0d0d0" stroke-width="0.8"/>
<line x1="407.50" y1="435.40" x2="409.70" y2="435.40" stroke="#d0d0d0" stroke-width="0.8"/>
<line x1="407.50" y1="438.82" x2="409.70" y2="438.82" stroke="#d0d0d0" stroke-width="0.8"/>
<line x1="407.50" y1="442.25" x2="409.70" y2="442.25" stroke="#d0d0d0" stroke-width="0.8"/>
<line x1="407.50" y1="445.67" x2="409.70" y2="445.67" stroke="#d0d0d0" stroke-width="0.8"/>
<line x1="407.50" y1="449.10" x2="409.70" y2="449.10" stroke="#d0d0d0" stroke-width="0.8"/>
<line x1="407.50" y1="452.52" x2="409.70" y2="452.52" stroke="#d0d0d0" stroke-width="0.8"/>
<line x1="407.50" y1="455.95" x2="409.70" y2="455.95" stroke="#d0d0d0" stroke-width="0.8"/>
<line x1="407.50" y1="459.38" x2="409.70" y2="459.38" stroke="#d0d0d0" stroke-width="0.8"/>
<line x1="407.50" y1="462.80" x2="409.70" y2="462.80" stroke="#d0d0d0" stroke-width="0.8"/>
<line x1="407.50" y1="466.22" x2="409.70" y2="466.22" stroke="#d0d0d0" stroke-width="0.8"/>
<line x1="407.50" y1="469.65" x2="409.70" y2="469.65" stroke="#d0d0d0" stroke-width="0.8"/>
<line x1="407.50" y1="473.07" x2="409.70" y2="473.07" stroke="#d0d0d0" stroke-width="0.8"/>
<line x1="407.50" y1="476.50" x2="409.70" y2="476.50" stroke="#d0d0d0" stroke-width="0.8"/>
<line x1="407.50" y1="479.92" x2="409.70" y2="479.92" stroke="#d0d0d0" stroke-width="0.8"/>
<line x1="407.50" y1="483.35" x2="409.70" y2="483.35" stroke="#d0d0d0" stroke-width="0.8"/>
<line x1="407.50" y1="486.77" x2="409.70" y2="486.77" stroke="#d0d0d0" stroke-width="0.8"/>
<line x1="407.50" y1="490.20" x2="409.70" y2="490.20" stroke="#d0d0d0" stroke-width="0.8"/>
<line x1="407.50" y1="493.62" x2="409.70" y2="493.62" stroke="#d0d0d0" stroke-width="0.8"/>
<line x1="407.50" y1="497.05" x2="409.70" y2="497.05" stroke="#d0d0d0" stroke-width="0.8"/>
<line x1="407.50" y1="500.47" x2="409.70" y2="500.47" stroke="#d0d0d0" stroke-width="0.8"/>
<line x1="411.93" y1="503.90" x2="411.93" y2="505.50" stroke="#d0d0d0" stroke-width="0.8"/>
<line x1="415.36" y1="503.90" x2="415.36" y2="505.50" stroke="#d0d0d0" stroke-width="0.8"/>
<line x1="418.79" y1="503.90" x2="418.79" y2="505.50" stroke="#d0d0d0" stroke-width="0.8"/>
<line x1="422.22" y1="503.90" x2="422.22" y2="505.50" stroke="#d0d0d0" stroke-width="0.8"/>
<line x1="425.65" y1="503.90" x2="425.65" y2="505.50" stroke="#d0d0d0" stroke-width="0.8"/>
<line x1="429.07" y1="503.90" x2="429.07" y2="505.50" stroke="#d0d0d0" stroke-width="0.8"/>
<line x1="432.50" y1="503.90" x2="432.50" y2="505.50" stroke="#d0d0d0" stroke-width="0.8"/>
<line x1="435.93" y1="503.90" x2="435.93" y2="505.50" stroke="#d0d0d0" stroke-width="0.8"/>
<line x1="439.36" y1="503.90" x2="439.36" y2="505.50" stroke="#d0d0d0" stroke-width="0.8"/>
<line x1="442.79" y1="503.90" x2="442.79" y2="505.50" stroke="#d0d0d0" stroke-width="0.8"/>
<line x1="446.22" y1="503.90" x2="446.22" y2="505.50" stroke="#d0d0d0" stroke-width="0.8"/>
<line x1="449.65" y1="503.90" x2="449.65" y2="505.50" stroke="#d0d0d0" stroke-width="0.8"/>
<line x1="453.08" y1="503.90" x2="453.08" y2="505.50" stroke="#d0d0d0" stroke-width="0.8"/>
<line x1="456.51" y1="503.90" x2="456.51" y2="505.50" stroke="#d0d0d0" stroke-width="0.8"/>
<line x1="459.94" y1="503.90" x2="459.94" y2="505.50" stroke="#d0d0d0" stroke-width="0.8"/>
<line x1="463.37" y1="503.90" x2="463.37" y2="505.50" stroke="#d0d0d0" stroke-width="0.8"/>
<line x1="466.80" y1="503.90" x2="466.80" y2="505.50" stroke="#d0d0d0" stroke-width="0.8"/>
<line x1="470.23" y1="503.90" x2="470.23" y2="505.50" stroke="#d0d0d0" stroke-width="0.8"/>
<line x1="473.65" y1="503.90" x2="473.65" y2="505.50" stroke="#d0d0d0" stroke-width="0.8"/>
<line x1="477.08" y1="503.90" x2="477.08" y2="505.50" stroke="#d0d0d0" stroke-width="0.8"/>
<line x1="480.51" y1="503.90" x2="480.51" y2="505.50" stroke="#d0d0d0" stroke-width="0.8"/>
<line x1="483.94" y1="503.90" x2="483.94" y2="505.50" stroke="#d0d0d0" stroke-width="0.8"/>
<line x1="487.37" y1="503.90" x2="487.37" y2="505.50" stroke="#d0d0d0" stroke-width="0.8"/>
<polyline fill="none" stroke="#959595" stroke-width="1.1" stroke-linejoin="round" points="408.5,503.7 411.2,502.8 412.8,497.9 414.0,489.6 415.1,475.7 415.9,461.7 416.7,447.8 417.4,433.9 418.0,428.0 418.4,426.3 418.9,428.0 419.5,433.9 420.4,447.8 421.2,461.7 422.3,475.7 424.0,489.6 426.5,497.9 430.0,502.8 432.7,503.5 490.7,503.7"/>
<line x1="435.60" y1="464.70" x2="475.20" y2="464.70" stroke="#222" stroke-width="1.7"/>
<text transform="translate(456.00,463.70) scale(1.0,1)" text-anchor="middle" font-size="10.80">1</text>
<line x1="297.50" y1="517.90" x2="380.40" y2="517.90" stroke="#bbb" stroke-width="1.7"/>
<line x1="297.50" y1="517.50" x2="297.50" y2="599.80" stroke="#aaa" stroke-width="1.2"/>
<line x1="380.40" y1="517.50" x2="380.40" y2="599.80" stroke="#aaa" stroke-width="1.2"/>
<line x1="297.50" y1="599.80" x2="380.40" y2="599.80" stroke="#555" stroke-width="1.3"/>
<line x1="296.50" y1="520.93" x2="298.70" y2="520.93" stroke="#d0d0d0" stroke-width="0.8"/>
<line x1="296.50" y1="524.36" x2="298.70" y2="524.36" stroke="#d0d0d0" stroke-width="0.8"/>
<line x1="296.50" y1="527.79" x2="298.70" y2="527.79" stroke="#d0d0d0" stroke-width="0.8"/>
<line x1="296.50" y1="531.22" x2="298.70" y2="531.22" stroke="#d0d0d0" stroke-width="0.8"/>
<line x1="296.50" y1="534.65" x2="298.70" y2="534.65" stroke="#d0d0d0" stroke-width="0.8"/>
<line x1="296.50" y1="538.08" x2="298.70" y2="538.08" stroke="#d0d0d0" stroke-width="0.8"/>
<line x1="296.50" y1="541.50" x2="298.70" y2="541.50" stroke="#d0d0d0" stroke-width="0.8"/>
<line x1="296.50" y1="544.93" x2="298.70" y2="544.93" stroke="#d0d0d0" stroke-width="0.8"/>
<line x1="296.50" y1="548.36" x2="298.70" y2="548.36" stroke="#d0d0d0" stroke-width="0.8"/>
<line x1="296.50" y1="551.79" x2="298.70" y2="551.79" stroke="#d0d0d0" stroke-width="0.8"/>
<line x1="296.50" y1="555.22" x2="298.70" y2="555.22" stroke="#d0d0d0" stroke-width="0.8"/>
<line x1="296.50" y1="558.65" x2="298.70" y2="558.65" stroke="#d0d0d0" stroke-width="0.8"/>
<line x1="296.50" y1="562.08" x2="298.70" y2="562.08" stroke="#d0d0d0" stroke-width="0.8"/>
<line x1="296.50" y1="565.51" x2="298.70" y2="565.51" stroke="#d0d0d0" stroke-width="0.8"/>
<line x1="296.50" y1="568.94" x2="298.70" y2="568.94" stroke="#d0d0d0" stroke-width="0.8"/>
<line x1="296.50" y1="572.37" x2="298.70" y2="572.37" stroke="#d0d0d0" stroke-width="0.8"/>
<line x1="296.50" y1="575.80" x2="298.70" y2="575.80" stroke="#d0d0d0" stroke-width="0.8"/>
<line x1="296.50" y1="579.22" x2="298.70" y2="579.22" stroke="#d0d0d0" stroke-width="0.8"/>
<line x1="296.50" y1="582.65" x2="298.70" y2="582.65" stroke="#d0d0d0" stroke-width="0.8"/>
<line x1="296.50" y1="586.08" x2="298.70" y2="586.08" stroke="#d0d0d0" stroke-width="0.8"/>
<line x1="296.50" y1="589.51" x2="298.70" y2="589.51" stroke="#d0d0d0" stroke-width="0.8"/>
<line x1="296.50" y1="592.94" x2="298.70" y2="592.94" stroke="#d0d0d0" stroke-width="0.8"/>
<line x1="296.50" y1="596.37" x2="298.70" y2="596.37" stroke="#d0d0d0" stroke-width="0.8"/>
<line x1="300.95" y1="599.80" x2="300.95" y2="601.40" stroke="#d0d0d0" stroke-width="0.8"/>
<line x1="304.41" y1="599.80" x2="304.41" y2="601.40" stroke="#d0d0d0" stroke-width="0.8"/>
<line x1="307.86" y1="599.80" x2="307.86" y2="601.40" stroke="#d0d0d0" stroke-width="0.8"/>
<line x1="311.32" y1="599.80" x2="311.32" y2="601.40" stroke="#d0d0d0" stroke-width="0.8"/>
<line x1="314.77" y1="599.80" x2="314.77" y2="601.40" stroke="#d0d0d0" stroke-width="0.8"/>
<line x1="318.23" y1="599.80" x2="318.23" y2="601.40" stroke="#d0d0d0" stroke-width="0.8"/>
<line x1="321.68" y1="599.80" x2="321.68" y2="601.40" stroke="#d0d0d0" stroke-width="0.8"/>
<line x1="325.13" y1="599.80" x2="325.13" y2="601.40" stroke="#d0d0d0" stroke-width="0.8"/>
<line x1="328.59" y1="599.80" x2="328.59" y2="601.40" stroke="#d0d0d0" stroke-width="0.8"/>
<line x1="332.04" y1="599.80" x2="332.04" y2="601.40" stroke="#d0d0d0" stroke-width="0.8"/>
<line x1="335.50" y1="599.80" x2="335.50" y2="601.40" stroke="#d0d0d0" stroke-width="0.8"/>
<line x1="338.95" y1="599.80" x2="338.95" y2="601.40" stroke="#d0d0d0" stroke-width="0.8"/>
<line x1="342.40" y1="599.80" x2="342.40" y2="601.40" stroke="#d0d0d0" stroke-width="0.8"/>
<line x1="345.86" y1="599.80" x2="345.86" y2="601.40" stroke="#d0d0d0" stroke-width="0.8"/>
<line x1="349.31" y1="599.80" x2="349.31" y2="601.40" stroke="#d0d0d0" stroke-width="0.8"/>
<line x1="352.77" y1="599.80" x2="352.77" y2="601.40" stroke="#d0d0d0" stroke-width="0.8"/>
<line x1="356.22" y1="599.80" x2="356.22" y2="601.40" stroke="#d0d0d0" stroke-width="0.8"/>
<line x1="359.67" y1="599.80" x2="359.67" y2="601.40" stroke="#d0d0d0" stroke-width="0.8"/>
<line x1="363.13" y1="599.80" x2="363.13" y2="601.40" stroke="#d0d0d0" stroke-width="0.8"/>
<line x1="366.58" y1="599.80" x2="366.58" y2="601.40" stroke="#d0d0d0" stroke-width="0.8"/>
<line x1="370.04" y1="599.80" x2="370.04" y2="601.40" stroke="#d0d0d0" stroke-width="0.8"/>
<line x1="373.49" y1="599.80" x2="373.49" y2="601.40" stroke="#d0d0d0" stroke-width="0.8"/>
<line x1="376.95" y1="599.80" x2="376.95" y2="601.40" stroke="#d0d0d0" stroke-width="0.8"/>
<polyline fill="none" stroke="#959595" stroke-width="1.1" stroke-linejoin="round" points="297.5,599.6 300.5,599.4 301.9,598.1 303.6,593.9 305.0,585.6 305.9,571.7 306.6,557.7 307.3,543.8 308.0,529.9 308.6,524.0 308.9,522.3 309.3,524.0 309.8,529.9 310.8,543.8 311.6,557.7 313.0,571.7 314.7,577.2 316.8,582.8 318.6,588.4 320.0,587.7 321.9,589.8 324.2,593.7 326.2,591.4 328.5,592.2 330.4,589.8 332.3,588.3 333.1,582.9 334.2,579.8 335.8,577.5 336.9,573.7 338.1,569.8 338.8,567.2 339.6,569.5 340.6,566.8 341.5,562.9 342.3,561.4 343.1,564.5 344.2,571.4 345.4,579.1 346.9,586.8 348.5,592.9 350.4,597.5 352.3,599.5 380.2,599.6"/>
<line x1="325.20" y1="560.40" x2="364.70" y2="560.40" stroke="#222" stroke-width="1.7"/>
<text transform="translate(344.20,559.40) scale(1.0,1)" text-anchor="middle" font-size="10.80">44</text>
<line x1="408.30" y1="517.70" x2="490.50" y2="517.70" stroke="#bbb" stroke-width="1.7"/>
<line x1="408.30" y1="517.30" x2="408.30" y2="599.60" stroke="#aaa" stroke-width="1.2"/>
<line x1="490.50" y1="517.30" x2="490.50" y2="599.60" stroke="#aaa" stroke-width="1.2"/>
<line x1="408.30" y1="599.60" x2="490.50" y2="599.60" stroke="#555" stroke-width="1.3"/>
<line x1="407.30" y1="520.73" x2="409.50" y2="520.73" stroke="#d0d0d0" stroke-width="0.8"/>
<line x1="407.30" y1="524.16" x2="409.50" y2="524.16" stroke="#d0d0d0" stroke-width="0.8"/>
<line x1="407.30" y1="527.59" x2="409.50" y2="527.59" stroke="#d0d0d0" stroke-width="0.8"/>
<line x1="407.30" y1="531.02" x2="409.50" y2="531.02" stroke="#d0d0d0" stroke-width="0.8"/>
<line x1="407.30" y1="534.45" x2="409.50" y2="534.45" stroke="#d0d0d0" stroke-width="0.8"/>
<line x1="407.30" y1="537.88" x2="409.50" y2="537.88" stroke="#d0d0d0" stroke-width="0.8"/>
<line x1="407.30" y1="541.30" x2="409.50" y2="541.30" stroke="#d0d0d0" stroke-width="0.8"/>
<line x1="407.30" y1="544.73" x2="409.50" y2="544.73" stroke="#d0d0d0" stroke-width="0.8"/>
<line x1="407.30" y1="548.16" x2="409.50" y2="548.16" stroke="#d0d0d0" stroke-width="0.8"/>
<line x1="407.30" y1="551.59" x2="409.50" y2="551.59" stroke="#d0d0d0" stroke-width="0.8"/>
<line x1="407.30" y1="555.02" x2="409.50" y2="555.02" stroke="#d0d0d0" stroke-width="0.8"/>
<line x1="407.30" y1="558.45" x2="409.50" y2="558.45" stroke="#d0d0d0" stroke-width="0.8"/>
<line x1="407.30" y1="561.88" x2="409.50" y2="561.88" stroke="#d0d0d0" stroke-width="0.8"/>
<line x1="407.30" y1="565.31" x2="409.50" y2="565.31" stroke="#d0d0d0" stroke-width="0.8"/>
<line x1="407.30" y1="568.74" x2="409.50" y2="568.74" stroke="#d0d0d0" stroke-width="0.8"/>
<line x1="407.30" y1="572.17" x2="409.50" y2="572.17" stroke="#d0d0d0" stroke-width="0.8"/>
<line x1="407.30" y1="575.60" x2="409.50" y2="575.60" stroke="#d0d0d0" stroke-width="0.8"/>
<line x1="407.30" y1="579.02" x2="409.50" y2="579.02" stroke="#d0d0d0" stroke-width="0.8"/>
<line x1="407.30" y1="582.45" x2="409.50" y2="582.45" stroke="#d0d0d0" stroke-width="0.8"/>
<line x1="407.30" y1="585.88" x2="409.50" y2="585.88" stroke="#d0d0d0" stroke-width="0.8"/>
<line x1="407.30" y1="589.31" x2="409.50" y2="589.31" stroke="#d0d0d0" stroke-width="0.8"/>
<line x1="407.30" y1="592.74" x2="409.50" y2="592.74" stroke="#d0d0d0" stroke-width="0.8"/>
<line x1="407.30" y1="596.17" x2="409.50" y2="596.17" stroke="#d0d0d0" stroke-width="0.8"/>
<line x1="411.73" y1="599.60" x2="411.73" y2="601.20" stroke="#d0d0d0" stroke-width="0.8"/>
<line x1="415.15" y1="599.60" x2="415.15" y2="601.20" stroke="#d0d0d0" stroke-width="0.8"/>
<line x1="418.57" y1="599.60" x2="418.57" y2="601.20" stroke="#d0d0d0" stroke-width="0.8"/>
<line x1="422.00" y1="599.60" x2="422.00" y2="601.20" stroke="#d0d0d0" stroke-width="0.8"/>
<line x1="425.43" y1="599.60" x2="425.43" y2="601.20" stroke="#d0d0d0" stroke-width="0.8"/>
<line x1="428.85" y1="599.60" x2="428.85" y2="601.20" stroke="#d0d0d0" stroke-width="0.8"/>
<line x1="432.27" y1="599.60" x2="432.27" y2="601.20" stroke="#d0d0d0" stroke-width="0.8"/>
<line x1="435.70" y1="599.60" x2="435.70" y2="601.20" stroke="#d0d0d0" stroke-width="0.8"/>
<line x1="439.12" y1="599.60" x2="439.12" y2="601.20" stroke="#d0d0d0" stroke-width="0.8"/>
<line x1="442.55" y1="599.60" x2="442.55" y2="601.20" stroke="#d0d0d0" stroke-width="0.8"/>
<line x1="445.98" y1="599.60" x2="445.98" y2="601.20" stroke="#d0d0d0" stroke-width="0.8"/>
<line x1="449.40" y1="599.60" x2="449.40" y2="601.20" stroke="#d0d0d0" stroke-width="0.8"/>
<line x1="452.82" y1="599.60" x2="452.82" y2="601.20" stroke="#d0d0d0" stroke-width="0.8"/>
<line x1="456.25" y1="599.60" x2="456.25" y2="601.20" stroke="#d0d0d0" stroke-width="0.8"/>
<line x1="459.68" y1="599.60" x2="459.68" y2="601.20" stroke="#d0d0d0" stroke-width="0.8"/>
<line x1="463.10" y1="599.60" x2="463.10" y2="601.20" stroke="#d0d0d0" stroke-width="0.8"/>
<line x1="466.52" y1="599.60" x2="466.52" y2="601.20" stroke="#d0d0d0" stroke-width="0.8"/>
<line x1="469.95" y1="599.60" x2="469.95" y2="601.20" stroke="#d0d0d0" stroke-width="0.8"/>
<line x1="473.38" y1="599.60" x2="473.38" y2="601.20" stroke="#d0d0d0" stroke-width="0.8"/>
<line x1="476.80" y1="599.60" x2="476.80" y2="601.20" stroke="#d0d0d0" stroke-width="0.8"/>
<line x1="480.23" y1="599.60" x2="480.23" y2="601.20" stroke="#d0d0d0" stroke-width="0.8"/>
<line x1="483.65" y1="599.60" x2="483.65" y2="601.20" stroke="#d0d0d0" stroke-width="0.8"/>
<line x1="487.07" y1="599.60" x2="487.07" y2="601.20" stroke="#d0d0d0" stroke-width="0.8"/>
<polyline fill="none" stroke="#959595" stroke-width="1.1" stroke-linejoin="round" points="408.3,599.6 411.2,598.1 412.6,593.9 413.5,585.6 414.4,571.7 415.1,557.7 415.8,543.8 416.5,529.9 417.0,524.0 417.4,521.8 417.8,524.0 418.4,529.9 419.5,543.8 420.4,557.7 421.2,571.7 422.6,585.6 424.8,593.9 427.9,598.1 431.4,599.0 440.0,599.0 446.5,597.8 452.0,598.4 455.2,599.3 490.3,599.6"/>
<line x1="435.60" y1="560.20" x2="474.80" y2="560.20" stroke="#222" stroke-width="1.7"/>
<text transform="translate(456.00,559.20) scale(1.0,1)" text-anchor="middle" font-size="10.80">5</text>
<text transform="translate(102.80,418.40) scale(1.0,1)" text-anchor="middle" font-size="10.50">DN</text>
<text transform="translate(211.00,418.40) scale(1.0,1)" text-anchor="middle" font-size="10.50">DP</text>
<text transform="translate(337.00,418.40) scale(1.0,1)" text-anchor="middle" font-size="10.50">DN</text>
<text transform="translate(445.30,418.40) scale(1.0,1)" text-anchor="middle" font-size="10.50">DP</text>
<text transform="translate(153.80,394.30) scale(1.0,1)" text-anchor="middle" font-size="10.50">DN3</text>
<text transform="translate(389.70,395.00) scale(1.0,1)" text-anchor="middle" font-size="10.50">DN4</text>
<text transform="translate(61.10,611.40) scale(1.0,1)" font-size="10.50">BrdU</text>
<line x1="91.20" y1="610" x2="243.90" y2="610" stroke="#000" stroke-width="1.8"/>
<polygon points="242.70,605.8 251.90,610 242.70,614.4" fill="#000"/>
<text transform="translate(297.50,611.40) scale(1.0,1)" font-size="10.50">BrdU</text>
<line x1="328.10" y1="610" x2="481.20" y2="610" stroke="#000" stroke-width="1.8"/>
<polygon points="480.00,605.8 489.20,610 480.00,614.4" fill="#000"/>
<text x="502.6" y="470" font-size="11" font-style="italic">Tg<tspan font-size="6.5" dx="-0.6" dy="-4.2">-</tspan></text>
<text x="502.6" y="565" font-size="11" font-style="italic">Tg<tspan font-size="6" dx="-0.3" dy="-3.6">+</tspan></text>
</svg>
</body></html>
